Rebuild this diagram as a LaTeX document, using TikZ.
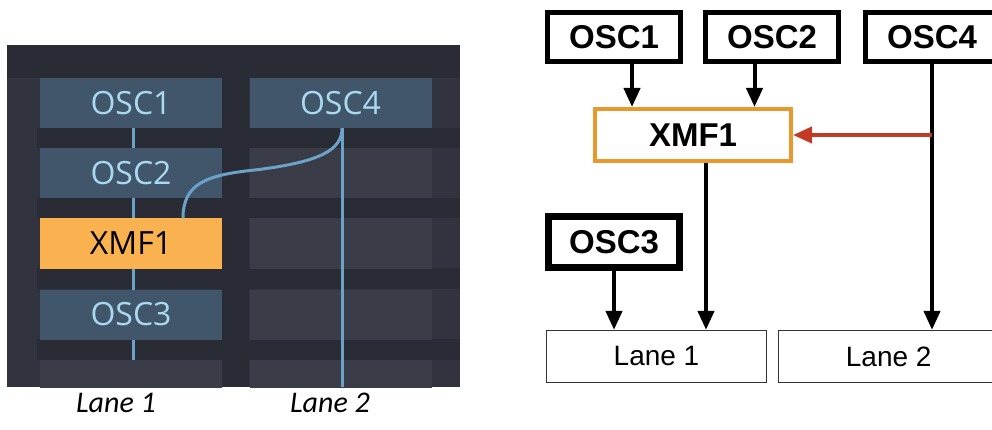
\documentclass[tikz,border=0pt]{standalone}
\usepackage{fontspec}
\setmainfont{Liberation Sans}
\newfontfamily\panelfont{Open Sans}
\newfontfamily\notefont{Carlito}
\usetikzlibrary{arrows.meta,positioning}

\definecolor{panelbg}{HTML}{31333E}
\definecolor{banddark}{HTML}{2A2C35}
\definecolor{cellblue}{HTML}{41566B}
\definecolor{cellgray}{HTML}{3A3C48}
\definecolor{celltext}{HTML}{A9D9EF}
\definecolor{laneblue}{HTML}{6AA2CA}
\definecolor{fxorange}{HTML}{F9B24F}
\definecolor{boxorange}{HTML}{E9982C}
\definecolor{arrowred}{HTML}{C23A24}

\begin{document}
\begin{tikzpicture}[x=1pt,y=-1pt]
  \tikzstyle{cell}=[rectangle, inner sep=0pt, minimum width=182pt, minimum height=50pt, font=\panelfont\fontsize{32}{32}\selectfont]
  \tikzstyle{osccell}=[cell, fill=cellblue, text=celltext]
  \tikzstyle{freecell}=[cell, fill=cellgray]
  \tikzstyle{fxcell}=[cell, fill=fxorange, text=black]
  \tikzstyle{wire}=[line width=3pt, draw=laneblue]
  \tikzstyle{block}=[rectangle, draw, inner sep=0pt, minimum width=133pt, minimum height=49pt, line width=5pt, font=\bfseries\fontsize{33}{33}\selectfont]
  \tikzstyle{outbox}=[rectangle, draw=black!80, line width=1.2pt, inner sep=0pt, minimum width=220pt, minimum height=52pt, font=\fontsize{28}{28}\selectfont]
  \tikzstyle{flow}=[-{Triangle[length=19pt,width=16pt]}, line width=4pt]
  \useasboundingbox (0,0) rectangle (992,430);
  \clip (0,0) rectangle (992,430);

  % left: the screen grid
  \begin{scope}
    \clip (7,45) rectangle (460,387);
    \fill[panelbg] (7,45) rectangle (460,387);
    \fill[banddark] (7,45) rectangle (460,78);
    \foreach \y in {128,198,268,339}
      \fill[banddark] (37,\y) rectangle (460,\y+20.5);
    \fill[banddark] (222,45) rectangle (249,387);
    \coordinate (end1) at (133,387);
    \coordinate (end2) at (342,387);
    \draw[wire] (133,128) -- (end1);
    \foreach \r in {173,243.5,314.5,385}
      \node[freecell] at (340.5,\r) {};
    \node[freecell] at (131,385) {};
    \node[osccell] (cOSC1) at (131,103) {OSC1};
    \node[osccell] (cOSC2) at (131,173) {OSC2};
    \node[fxcell] (cXMF1) at (131,243.5) {XMF1};
    \node[osccell] (cOSC3) at (131,314.5) {OSC3};
    \node[osccell] (cOSC4) at (340.5,103) {OSC4};
    \draw[wire] ([xshift=1.5pt]cOSC4.south) -- (end2);
    \draw[wire] ([xshift=52pt]cXMF1.north) .. controls +(0,-34) and +(-50,5) .. (255,170)
      .. controls +(65,-8) and +(0,22) .. ([xshift=1.5pt]cOSC4.south);
  \end{scope}
  \node[font=\notefont\itshape\fontsize{30}{30}\selectfont] (note1) at (116,403) {Lane 1};
  \node[font=\notefont\itshape\fontsize{30}{30}\selectfont] (note2) at (330,403) {Lane 2};

  % right: the routing
  \node[block] (OSC1) at (614,37) {OSC1};
  \node[block] (OSC2) [right=20pt of OSC1] {OSC2};
  \node[block] (OSC4) [right=22pt of OSC2] {OSC4};
  \node[block, draw=boxorange, line width=4pt, minimum width=196pt, minimum height=52pt] (XMF1) at (693,135) {XMF1};
  \node[block, line width=6.5pt, minimum width=131pt, minimum height=51pt] (OSC3) at (614,242) {OSC3};
  \node[outbox] (Lane1) at (656.5,356.5) {Lane 1};
  \node[outbox] (Lane2) [right=11pt of Lane1] {Lane 2};

  \draw[flow] ([xshift=18pt]OSC1.south) -- ([xshift=18pt]OSC1.south |- XMF1.north);
  \draw[flow] ([xshift=-17.5pt]OSC2.south) -- ([xshift=-17.5pt]OSC2.south |- XMF1.north);
  \draw[flow] ([xshift=13pt]XMF1.south) -- ([xshift=13pt]XMF1.south |- Lane1.north);
  \draw[flow] (OSC3.south) -- (OSC3.south |- Lane1.north);
  \draw[flow] (OSC4.south) -- (OSC4.south |- Lane2.north);
  \draw[flow, draw=arrowred] (OSC4.south |- XMF1.east) -- (XMF1.east);
\end{tikzpicture}
\end{document}
